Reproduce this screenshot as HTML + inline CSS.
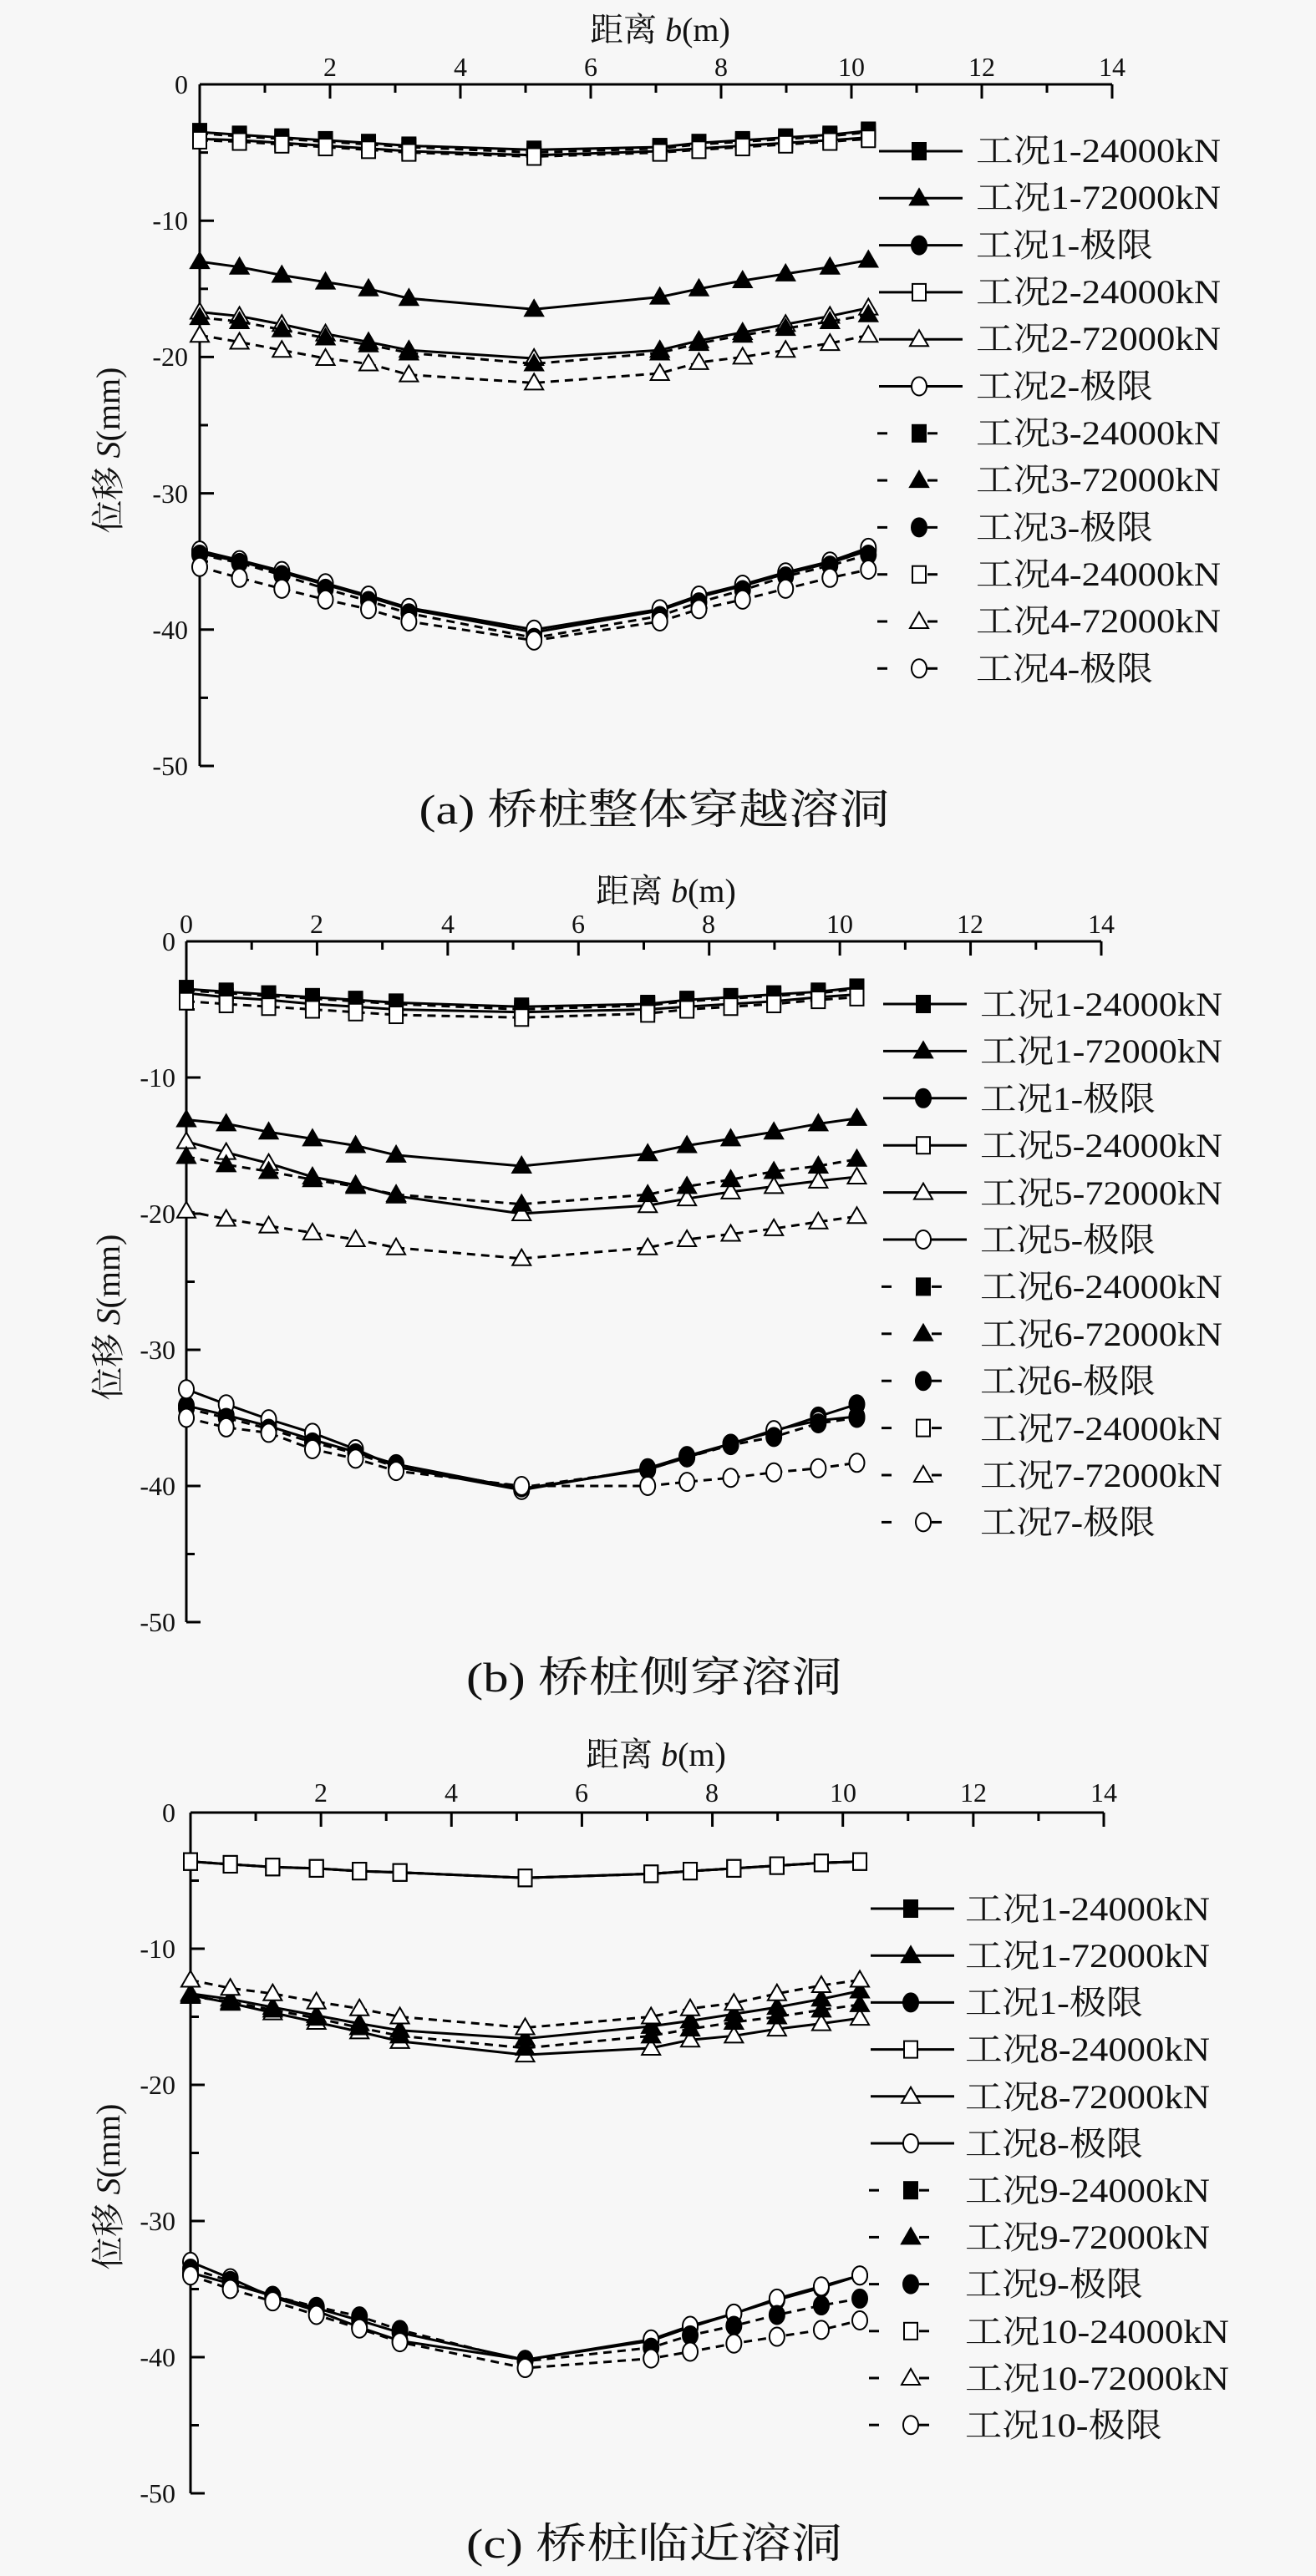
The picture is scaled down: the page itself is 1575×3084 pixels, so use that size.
<!DOCTYPE html>
<html><head><meta charset="utf-8">
<style>
html,body{margin:0;padding:0;background:#f7f7f7;}
svg{display:block;}
text{font-family:"Liberation Serif","Noto Serif CJK SC","Noto Sans CJK SC",serif;fill:#111;}
</style></head>
<body>
<svg id="s" width="1575" height="3084" viewBox="0 0 1575 3084" xmlns="http://www.w3.org/2000/svg">
<rect width="1575" height="3084" fill="#f7f7f7"/>
<g id="plot"></g>
<!-- Chart A texts -->
<text x="790" y="49" font-size="40" text-anchor="middle">距离 <tspan font-style="italic">b</tspan>(m)</text>
<g font-size="32" text-anchor="middle">
<text x="395" y="91">2</text><text x="551" y="91">4</text><text x="707" y="91">6</text><text x="863" y="91">8</text><text x="1019" y="91">10</text><text x="1175" y="91">12</text><text x="1331" y="91">14</text>
</g>
<g font-size="32" text-anchor="end">
<text x="225" y="112">0</text><text x="225" y="275">-10</text><text x="225" y="438">-20</text><text x="225" y="602">-30</text><text x="225" y="765">-40</text><text x="225" y="928">-50</text>
</g>
<text transform="translate(143,539) rotate(-90)" font-size="40" text-anchor="middle">位移 <tspan font-style="italic">S</tspan>(mm)</text>
<text x="783" y="986" font-size="50" text-anchor="middle" textLength="563" lengthAdjust="spacingAndGlyphs">(a) 桥桩整体穿越溶洞</text>
<g font-size="40">
<text x="1168" y="194" textLength="293" lengthAdjust="spacingAndGlyphs">工况1-24000kN</text>
<text x="1168" y="250" textLength="293" lengthAdjust="spacingAndGlyphs">工况1-72000kN</text>
<text x="1168" y="307" textLength="212" lengthAdjust="spacingAndGlyphs">工况1-极限</text>
<text x="1168" y="363" textLength="293" lengthAdjust="spacingAndGlyphs">工况2-24000kN</text>
<text x="1168" y="419" textLength="293" lengthAdjust="spacingAndGlyphs">工况2-72000kN</text>
<text x="1168" y="476" textLength="212" lengthAdjust="spacingAndGlyphs">工况2-极限</text>
<text x="1168" y="532" textLength="293" lengthAdjust="spacingAndGlyphs">工况3-24000kN</text>
<text x="1168" y="588" textLength="293" lengthAdjust="spacingAndGlyphs">工况3-72000kN</text>
<text x="1168" y="645" textLength="212" lengthAdjust="spacingAndGlyphs">工况3-极限</text>
<text x="1168" y="701" textLength="293" lengthAdjust="spacingAndGlyphs">工况4-24000kN</text>
<text x="1168" y="757" textLength="293" lengthAdjust="spacingAndGlyphs">工况4-72000kN</text>
<text x="1168" y="814" textLength="212" lengthAdjust="spacingAndGlyphs">工况4-极限</text>
</g>
<!-- Chart B texts -->
<text x="797" y="1080" font-size="40" text-anchor="middle">距离 <tspan font-style="italic">b</tspan>(m)</text>
<g font-size="32" text-anchor="middle">
<text x="223" y="1117">0</text><text x="379" y="1117">2</text><text x="536" y="1117">4</text><text x="692" y="1117">6</text><text x="848" y="1117">8</text><text x="1005" y="1117">10</text><text x="1161" y="1117">12</text><text x="1318" y="1117">14</text>
</g>
<g font-size="32" text-anchor="end">
<text x="210" y="1138">0</text><text x="210" y="1301">-10</text><text x="210" y="1464">-20</text><text x="210" y="1627">-30</text><text x="210" y="1790">-40</text><text x="210" y="1953">-50</text>
</g>
<text transform="translate(143,1577) rotate(-90)" font-size="40" text-anchor="middle">位移 <tspan font-style="italic">S</tspan>(mm)</text>
<text x="783" y="2025" font-size="50" text-anchor="middle" textLength="450" lengthAdjust="spacingAndGlyphs">(b) 桥桩侧穿溶洞</text>
<g font-size="40">
<text x="1173" y="1216" textLength="290" lengthAdjust="spacingAndGlyphs">工况1-24000kN</text>
<text x="1173" y="1272" textLength="290" lengthAdjust="spacingAndGlyphs">工况1-72000kN</text>
<text x="1173" y="1329" textLength="210" lengthAdjust="spacingAndGlyphs">工况1-极限</text>
<text x="1173" y="1385" textLength="290" lengthAdjust="spacingAndGlyphs">工况5-24000kN</text>
<text x="1173" y="1442" textLength="290" lengthAdjust="spacingAndGlyphs">工况5-72000kN</text>
<text x="1173" y="1498" textLength="210" lengthAdjust="spacingAndGlyphs">工况5-极限</text>
<text x="1173" y="1554" textLength="290" lengthAdjust="spacingAndGlyphs">工况6-24000kN</text>
<text x="1173" y="1611" textLength="290" lengthAdjust="spacingAndGlyphs">工况6-72000kN</text>
<text x="1173" y="1667" textLength="210" lengthAdjust="spacingAndGlyphs">工况6-极限</text>
<text x="1173" y="1724" textLength="290" lengthAdjust="spacingAndGlyphs">工况7-24000kN</text>
<text x="1173" y="1780" textLength="290" lengthAdjust="spacingAndGlyphs">工况7-72000kN</text>
<text x="1173" y="1836" textLength="210" lengthAdjust="spacingAndGlyphs">工况7-极限</text>
</g>
<!-- Chart C texts -->
<text x="785" y="2114" font-size="40" text-anchor="middle">距离 <tspan font-style="italic">b</tspan>(m)</text>
<g font-size="32" text-anchor="middle">
<text x="384" y="2157">2</text><text x="540" y="2157">4</text><text x="696" y="2157">6</text><text x="852" y="2157">8</text><text x="1009" y="2157">10</text><text x="1165" y="2157">12</text><text x="1321" y="2157">14</text>
</g>
<g font-size="32" text-anchor="end">
<text x="210" y="2181">0</text><text x="210" y="2344">-10</text><text x="210" y="2507">-20</text><text x="210" y="2670">-30</text><text x="210" y="2833">-40</text><text x="210" y="2996">-50</text>
</g>
<text transform="translate(143,2618) rotate(-90)" font-size="40" text-anchor="middle">位移 <tspan font-style="italic">S</tspan>(mm)</text>
<text x="783" y="3062" font-size="50" text-anchor="middle" textLength="450" lengthAdjust="spacingAndGlyphs">(c) 桥桩临近溶洞</text>
<g font-size="40">
<text x="1155" y="2299" textLength="293" lengthAdjust="spacingAndGlyphs">工况1-24000kN</text>
<text x="1155" y="2355" textLength="293" lengthAdjust="spacingAndGlyphs">工况1-72000kN</text>
<text x="1155" y="2411" textLength="213" lengthAdjust="spacingAndGlyphs">工况1-极限</text>
<text x="1155" y="2467" textLength="293" lengthAdjust="spacingAndGlyphs">工况8-24000kN</text>
<text x="1155" y="2524" textLength="293" lengthAdjust="spacingAndGlyphs">工况8-72000kN</text>
<text x="1155" y="2580" textLength="213" lengthAdjust="spacingAndGlyphs">工况8-极限</text>
<text x="1155" y="2636" textLength="293" lengthAdjust="spacingAndGlyphs">工况9-24000kN</text>
<text x="1155" y="2692" textLength="293" lengthAdjust="spacingAndGlyphs">工况9-72000kN</text>
<text x="1155" y="2748" textLength="213" lengthAdjust="spacingAndGlyphs">工况9-极限</text>
<text x="1155" y="2805" textLength="316" lengthAdjust="spacingAndGlyphs">工况10-24000kN</text>
<text x="1155" y="2861" textLength="316" lengthAdjust="spacingAndGlyphs">工况10-72000kN</text>
<text x="1155" y="2917" textLength="236" lengthAdjust="spacingAndGlyphs">工况10-极限</text>
</g>
</svg>
<script>
(function(){
var NS="http://www.w3.org/2000/svg",G=document.getElementById("plot");
function el(t,a){var e=document.createElementNS(NS,t);for(var k in a)e.setAttribute(k,a[k]);G.appendChild(e);return e;}
var X=[0,0.61,1.26,1.93,2.59,3.21,5.13,7.06,7.66,8.33,8.99,9.67,10.26];
function marker(x,y,m,f){var fill=f?"#000":"#fff",st={stroke:"#000","stroke-width":2,fill:fill};
 if(m=="s"){st.x=x-8;st.y=y-10;st.width=16;st.height=20;el("rect",st);}
 else if(m=="t"){st.points=(x-11)+","+(y+8)+" "+(x+11)+","+(y+8)+" "+x+","+(y-11);el("polygon",st);}
 else {st.cx=x;st.cy=y;st.rx=9;st.ry=11;el("ellipse",st);}}
function chart(c){
 var sx=(c.x14-c.x0)/14,sy=(c.y50-c.y0)/50;
 el("line",{x1:c.x0,y1:c.y0,x2:c.x14,y2:c.y0,stroke:"#000","stroke-width":3});
 el("line",{x1:c.x0,y1:c.y0,x2:c.x0,y2:c.y50,stroke:"#000","stroke-width":3});
 for(var i=1;i<=14;i++){var x=c.x0+i*sx;el("line",{x1:x,y1:c.y0,x2:x,y2:c.y0+(i%2?10:17),stroke:"#000","stroke-width":3});}
 for(var j=1;j<=10;j++){var y=c.y0+j*5*sy;el("line",{x1:c.x0,y1:y,x2:c.x0+(j%2?10:17),y2:y,stroke:"#000","stroke-width":3});}
 c.s.forEach(function(s){
  var pts=s.v.map(function(v,i){return [c.x0+X[i]*sx,c.y0-v*sy];});
  el("polyline",{points:pts.map(function(p){return p.join(",")}).join(" "),fill:"none",stroke:"#000","stroke-width":3,"stroke-dasharray":s.d?"10,7":"none"});
  pts.forEach(function(p){marker(p[0],p[1],s.m,s.f);});
 });
 c.s.forEach(function(s,k){var y=c.ly+k*c.ld,mx=c.lx;
  if(!s.d){el("line",{x1:mx-48,y1:y,x2:mx+52,y2:y,stroke:"#000","stroke-width":3});}
  else{el("line",{x1:mx-50,y1:y,x2:mx-38,y2:y,stroke:"#000","stroke-width":3});el("line",{x1:mx+10,y1:y,x2:mx+22,y2:y,stroke:"#000","stroke-width":3});}
  marker(mx,y,s.m,s.f);});
}
function S(v,m,f,d){return {v:v,m:m,f:f,d:d};}
chart({x0:239,x14:1331,y0:101,y50:917,lx:1100,ly:181,ld:56.3,s:[
 S([-3.5,-3.7,-3.9,-4.1,-4.3,-4.5,-4.8,-4.6,-4.3,-4.1,-3.9,-3.7,-3.4],"s",1,0),
 S([-13.0,-13.4,-14.0,-14.5,-15.0,-15.7,-16.5,-15.6,-15.0,-14.4,-13.9,-13.4,-12.9],"t",1,0),
 S([-34.4,-35.0,-35.8,-36.7,-37.6,-38.5,-40.2,-38.6,-37.6,-36.8,-35.9,-35.1,-34.2],"c",1,0),
 S([-4.0,-4.1,-4.3,-4.5,-4.7,-4.9,-5.2,-4.9,-4.7,-4.5,-4.3,-4.1,-3.9],"s",0,0),
 S([-16.7,-17.0,-17.6,-18.3,-18.9,-19.5,-20.1,-19.5,-18.8,-18.2,-17.6,-17.0,-16.4],"t",0,0),
 S([-34.2,-34.9,-35.7,-36.6,-37.5,-38.4,-40.0,-38.5,-37.5,-36.7,-35.8,-35.0,-34.0],"c",0,0),
 S([-3.6,-3.8,-4.0,-4.2,-4.4,-4.6,-5.0,-4.7,-4.4,-4.2,-4.0,-3.8,-3.5],"s",1,1),
 S([-17.1,-17.4,-18.0,-18.6,-19.1,-19.7,-20.5,-19.7,-19.0,-18.4,-17.9,-17.4,-16.9],"t",1,1),
 S([-34.5,-35.1,-36.0,-37.0,-37.9,-38.8,-40.6,-39.0,-38.0,-37.1,-36.1,-35.3,-34.5],"c",1,1),
 S([-4.1,-4.2,-4.4,-4.6,-4.8,-5.0,-5.3,-5.0,-4.8,-4.6,-4.4,-4.2,-4.0],"s",0,1),
 S([-18.4,-18.9,-19.5,-20.1,-20.5,-21.3,-21.9,-21.2,-20.4,-20.0,-19.5,-19.0,-18.4],"t",0,1),
 S([-35.4,-36.2,-37.0,-37.8,-38.5,-39.4,-40.8,-39.4,-38.5,-37.8,-37.0,-36.2,-35.6],"c",0,1)]});
chart({x0:223,x14:1318,y0:1127,y50:1942,lx:1105,ly:1202,ld:56.4,s:[
 S([-3.5,-3.7,-3.9,-4.1,-4.3,-4.5,-4.8,-4.6,-4.3,-4.1,-3.9,-3.7,-3.4],"s",1,0),
 S([-13.1,-13.4,-14.0,-14.5,-15.0,-15.7,-16.5,-15.6,-15.0,-14.5,-14.0,-13.4,-13.0],"t",1,0),
 S([-34.1,-34.8,-35.6,-36.6,-37.5,-38.4,-40.2,-38.8,-37.9,-36.9,-36.0,-34.9,-34.0],"c",1,0),
 S([-3.8,-4.1,-4.3,-4.6,-4.8,-5.0,-5.2,-5.0,-4.8,-4.6,-4.4,-4.1,-3.9],"s",0,0),
 S([-14.7,-15.5,-16.3,-17.3,-17.9,-18.7,-20.0,-19.4,-18.9,-18.4,-18.0,-17.6,-17.3],"t",0,0),
 S([-32.9,-34.0,-35.1,-36.1,-37.3,-38.6,-40.3,-38.7,-37.8,-36.9,-35.9,-35.2,-34.9],"c",0,0),
 S([-3.6,-3.8,-4.0,-4.2,-4.4,-4.6,-5.0,-4.7,-4.4,-4.2,-4.0,-3.8,-3.5],"s",1,1),
 S([-15.8,-16.4,-16.9,-17.5,-18.0,-18.6,-19.3,-18.6,-18.0,-17.5,-16.9,-16.5,-16.0],"t",1,1),
 S([-34.3,-35.0,-35.8,-36.8,-37.6,-38.6,-40.1,-38.8,-37.9,-37.0,-36.4,-35.4,-35.0],"c",1,1),
 S([-4.4,-4.6,-4.8,-5.0,-5.2,-5.4,-5.6,-5.3,-5.0,-4.8,-4.6,-4.3,-4.1],"s",0,1),
 S([-19.8,-20.4,-20.9,-21.4,-21.9,-22.5,-23.3,-22.5,-21.9,-21.5,-21.1,-20.6,-20.2],"t",0,1),
 S([-35.0,-35.7,-36.1,-37.3,-38.0,-38.9,-40.0,-40.0,-39.7,-39.4,-39.0,-38.7,-38.3],"c",0,1)]});
chart({x0:228,x14:1321,y0:2170,y50:2985,lx:1090,ly:2285,ld:56.2,s:[
 S([-3.6,-3.8,-4.0,-4.1,-4.3,-4.4,-4.8,-4.5,-4.3,-4.1,-3.9,-3.7,-3.6],"s",1,0),
 S([-13.3,-13.7,-14.3,-14.9,-15.5,-16.0,-16.6,-15.7,-15.3,-14.8,-14.3,-13.7,-13.1],"t",1,0),
 S([-33.8,-34.6,-35.5,-36.4,-37.3,-38.2,-40.2,-38.8,-37.8,-36.8,-35.8,-34.9,-34.0],"c",1,0),
 S([-3.6,-3.8,-4.0,-4.1,-4.3,-4.4,-4.8,-4.5,-4.3,-4.1,-3.9,-3.7,-3.6],"s",0,0),
 S([-13.4,-14.0,-14.7,-15.4,-16.1,-16.8,-17.8,-17.3,-16.7,-16.4,-15.9,-15.5,-15.1],"t",0,0),
 S([-33.0,-34.2,-35.6,-36.6,-37.8,-38.8,-40.2,-38.7,-37.7,-36.8,-35.7,-34.8,-34.0],"c",0,0),
 S([-3.6,-3.8,-4.0,-4.1,-4.3,-4.4,-4.8,-4.5,-4.3,-4.1,-3.9,-3.7,-3.6],"s",1,1),
 S([-13.5,-13.9,-14.5,-15.1,-15.8,-16.4,-17.3,-16.4,-15.9,-15.4,-15.0,-14.5,-14.1],"t",1,1),
 S([-33.5,-34.4,-35.5,-36.3,-37.0,-38.0,-40.3,-39.3,-38.4,-37.7,-36.9,-36.2,-35.7],"c",1,1),
 S([-3.6,-3.8,-4.0,-4.1,-4.3,-4.4,-4.8,-4.5,-4.3,-4.1,-3.9,-3.7,-3.6],"s",0,1),
 S([-12.3,-12.9,-13.3,-13.9,-14.4,-15.0,-15.8,-15.0,-14.4,-14.0,-13.3,-12.7,-12.3],"t",0,1),
 S([-34.0,-35.0,-35.9,-36.9,-37.9,-38.9,-40.8,-40.1,-39.6,-39.0,-38.5,-38.0,-37.3],"c",0,1)]});
})();
</script>
</body></html>
